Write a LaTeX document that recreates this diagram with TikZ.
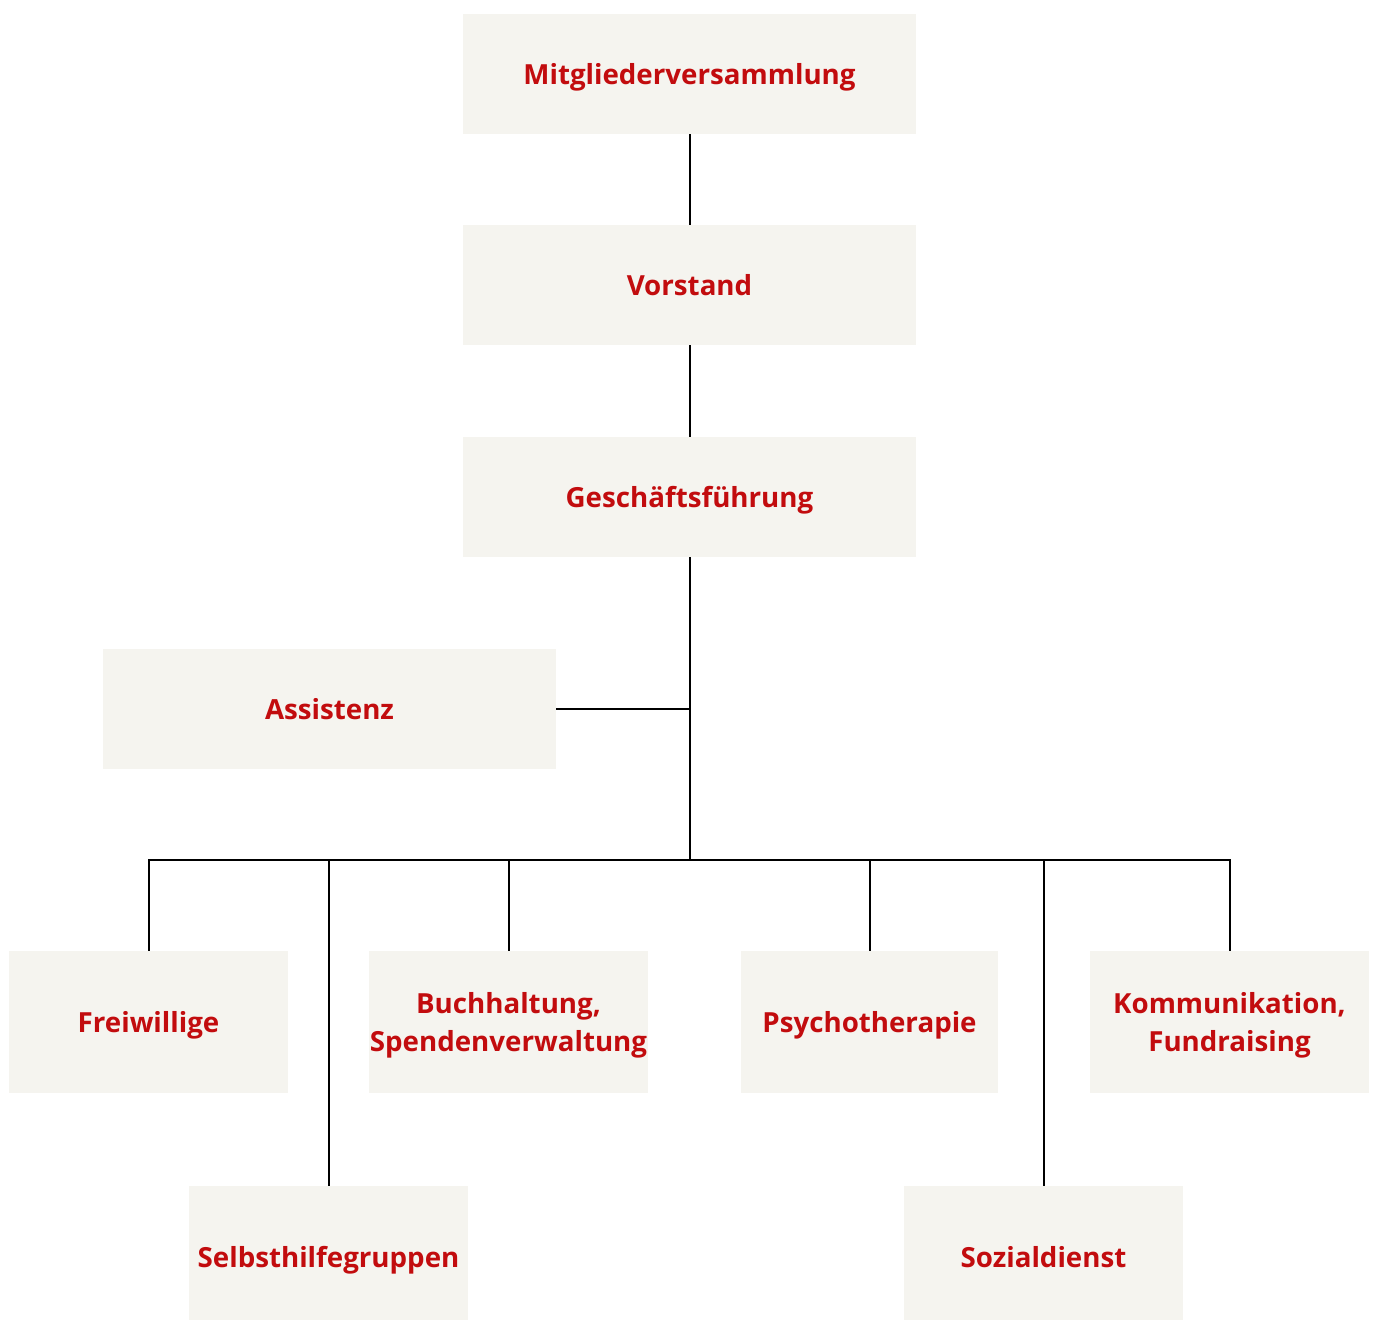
\documentclass[tikz,border=0pt]{standalone}
\usepackage{fontspec}
\setmainfont{Open Sans}
\definecolor{boxfill}{RGB}{245,244,239}
\definecolor{boxred}{RGB}{194,12,14}
\begin{document}
\begin{tikzpicture}[x=1pt,y=-1pt,
  txt/.style={inner sep=0pt, align=center, text=boxred,
    font=\fontsize{27.7}{38}\selectfont\bfseries, yshift=-4pt,
    text height=20pt, text depth=7pt},
  txttwo/.style={inner sep=0pt, align=center, text=boxred,
    font=\fontsize{27.7}{38}\selectfont\bfseries, yshift=-3pt},
  orgbox/.style={fill=boxfill, draw=none, inner sep=0pt},
  wide/.style={orgbox, minimum width=453pt, minimum height=120pt},
  small/.style={orgbox, minimum width=279pt, minimum height=142pt},
  conn/.style={line width=2pt, black}]
\clip (0,0) rectangle (1374,1320);
\useasboundingbox (0,0) rectangle (1374,1320);
\node[wide, label={[txt]center:Mitgliederversammlung}] (mv) at (689.5,74) {};
\node[wide, label={[txt]center:Vorstand}] (vo) at (689.5,285) {};
\node[wide, label={[txt]center:Geschäftsführung}] (gf) at (689.5,497) {};
\node[wide, label={[txt]center:Assistenz}] (as) at (329.5,709) {};
\node[small, label={[txt]center:Freiwillige}] (fw) at (148.5,1022) {};
\node[small, label={[txttwo]center:{Buchhaltung,\\Spendenverwaltung}}] (bh) at (508.5,1022) {};
\node[small, minimum width=257pt, label={[txt]center:Psychotherapie}] (ps) at (869.5,1022) {};
\node[small, label={[txttwo]center:{Kommunikation,\\Fundraising}}] (ko) at (1229.5,1022) {};
\node[small, label={[txt]center:Selbsthilfegruppen}] (sh) at (328.5,1257) {};
\node[small, label={[txt]center:Sozialdienst}] (sd) at (1043.5,1257) {};
\coordinate (hub) at (689.5,860);
\draw[conn] (mv.south) -- (vo.north);
\draw[conn] (vo.south) -- (gf.north);
\draw[conn] (gf.south) -- (hub);
\draw[conn] (as.east) -- (as.east -| hub);
\draw[conn] (fw.north) -- (fw.north |- hub) -- (ko.north |- hub) -- (ko.north);
\draw[conn] (sh.north) -- (sh.north |- hub);
\draw[conn] (bh.north) -- (bh.north |- hub);
\draw[conn] (ps.north) -- (ps.north |- hub);
\draw[conn] (sd.north) -- (sd.north |- hub);
\end{tikzpicture}
\end{document}
